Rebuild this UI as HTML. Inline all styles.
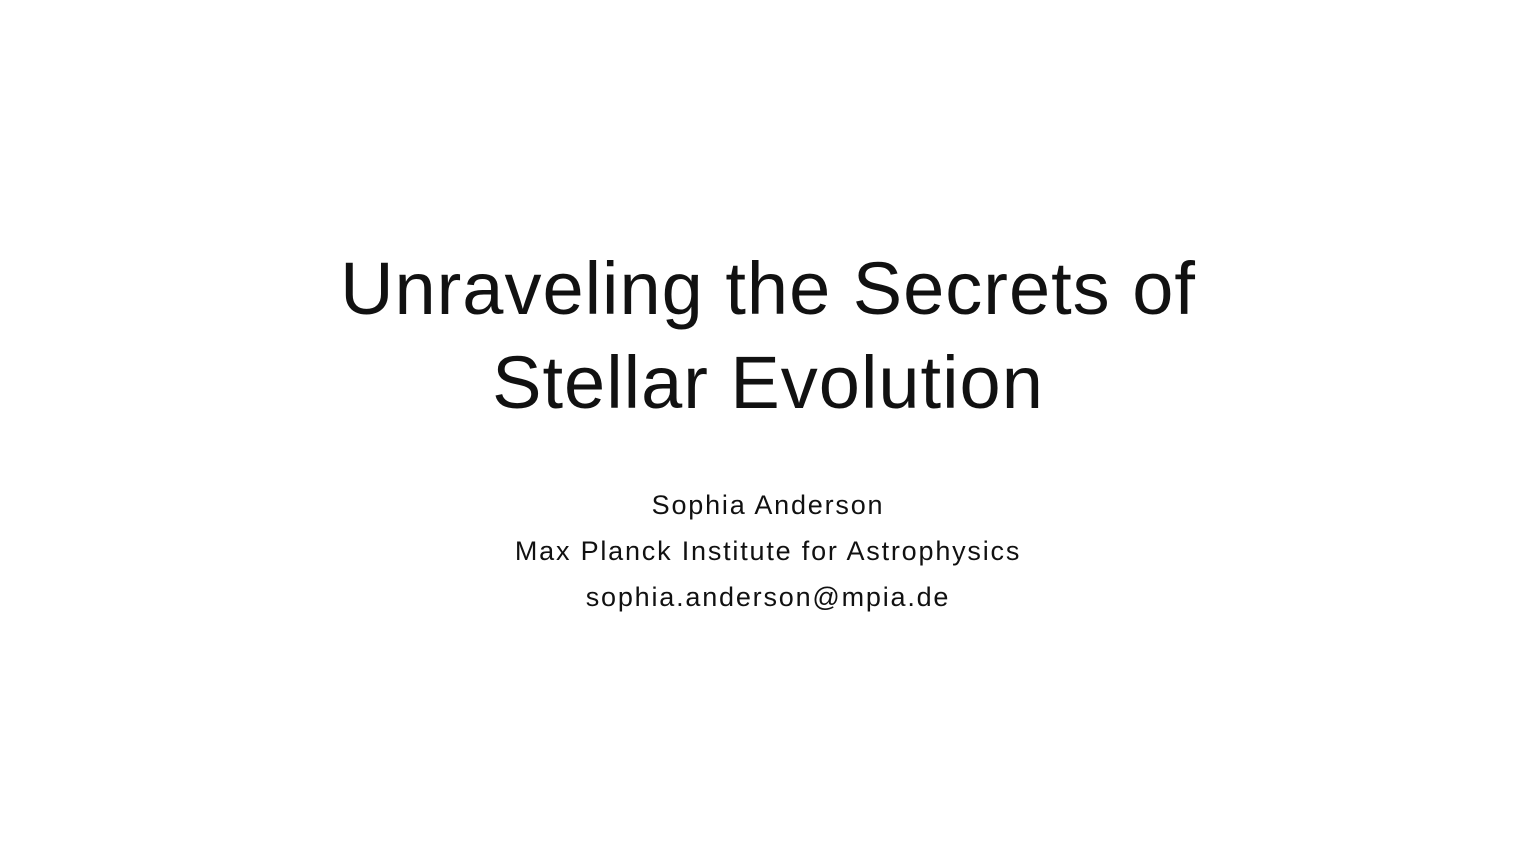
<!DOCTYPE html>
<html>
<head>
<meta charset="utf-8">
<style>
  html, body { margin:0; padding:0; background:#fff; }
  body { width:1536px; height:864px; position:relative; overflow:hidden;
         font-family:"Liberation Sans", sans-serif; color:#111; }
  .line { position:absolute; left:0; width:1536px; text-align:center; white-space:nowrap; }
  .title { font-size:74px; line-height:74px; letter-spacing:1px; }
  .sub { font-size:27px; line-height:27px; letter-spacing:1.8px; }
</style>
</head>
<body>
  <div class="line title" style="top:252px">Unraveling the Secrets of</div>
  <div class="line title" style="top:346px">Stellar Evolution</div>
  <div class="line sub" style="top:492px">Sophia Anderson</div>
  <div class="line sub" style="top:538px">Max Planck Institute for Astrophysics</div>
  <div class="line sub" style="top:584px">sophia.anderson@mpia.de</div>
</body>
</html>
